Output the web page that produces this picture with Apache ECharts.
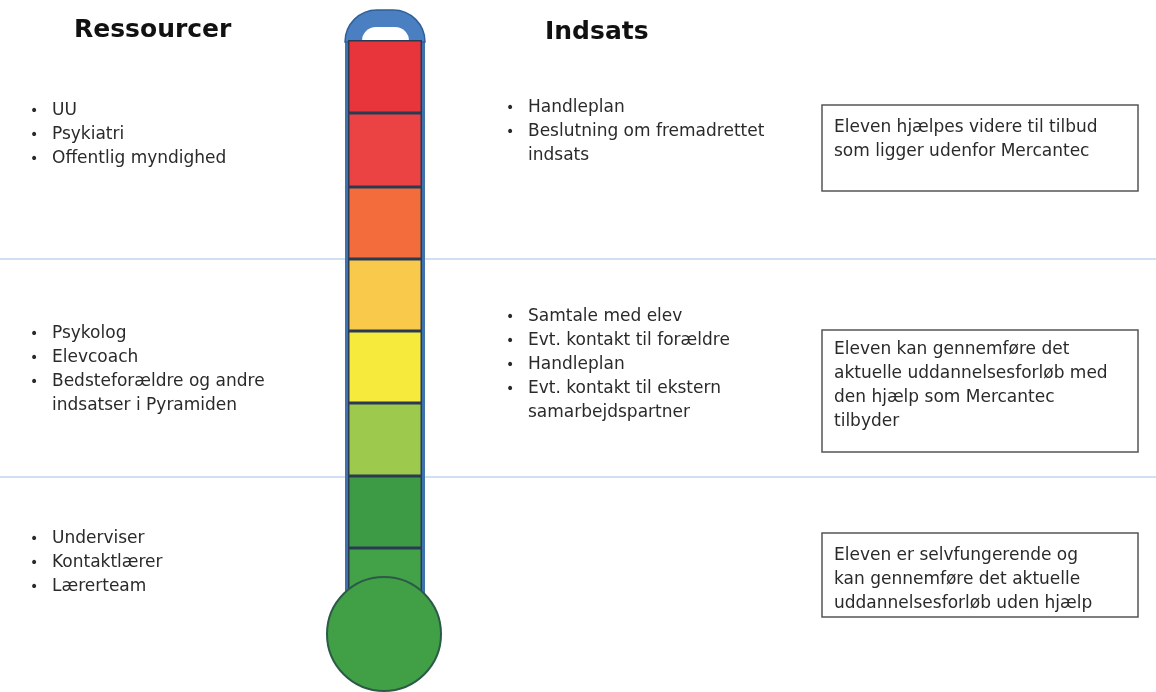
<!DOCTYPE html>
<html>
<head>
<meta charset="utf-8">
<script src="https://cdn.jsdelivr.net/npm/echarts@6/dist/echarts.min.js"></script>
<style>html,body{margin:0;padding:0;background:#fff;}#c{width:1156px;height:692px;}</style>
</head>
<body>
<div id="c"></div>
<script>
// Thermometer segments, bottom to top (height units)
const segNames = ['Grøn base','Grøn','Lysegrøn','Gul','Gul-orange','Orange','Rød 2','Rød 1'];
const segValues = [52, 72, 73, 72, 72, 72, 74, 73];
const segColors = ['#43a148','#3e9b45','#9dc94c','#f6ea3c','#f8c94a','#f36c3c','#eb4343','#e8353c'];

// Column headers
const headers = ['Ressourcer', 'Indsats'];

// Bullet lists: Ressourcer (top, middle, bottom)
const resTop = ['UU', 'Psykiatri', 'Offentlig myndighed'];
const resMid = ['Psykolog', 'Elevcoach', 'Bedsteforældre og andre\nindsatser i Pyramiden'];
const resBot = ['Underviser', 'Kontaktlærer', 'Lærerteam'];

// Bullet lists: Indsats (top, middle)
const indTop = ['Handleplan', 'Beslutning om fremadrettet\nindsats'];
const indMid = ['Samtale med elev', 'Evt. kontakt til forældre', 'Handleplan', 'Evt. kontakt til ekstern\nsamarbejdspartner'];

// Box texts
const boxTexts = [
  'Eleven hjælpes videre til tilbud\nsom ligger udenfor Mercantec',
  'Eleven kan gennemføre det\naktuelle uddannelsesforløb med\nden hjælp som Mercantec\ntilbyder',
  'Eleven er selvfungerende og\nkan gennemføre det aktuelle\nuddannelsesforløb uden hjælp'
];

const FONT = '"DejaVu Sans", sans-serif';
const LH = 24;
const TXT = '#2a2a2a';

function bulletList(items, bx, tx, y0) {
  const els = [];
  let y = y0;
  items.forEach(it => {
    const lines = it.split('\n');
    lines.forEach((ln, i) => {
      if (i === 0) {
        els.push({type:'text', x:bx, y:y, style:{text:'•', fill:TXT, font:'14px ' + FONT, textVerticalAlign:'middle', textAlign:'left'}, z:20});
      }
      els.push({type:'text', x:tx, y:y, style:{text:ln, fill:TXT, font:'17px ' + FONT, textVerticalAlign:'middle', textAlign:'left'}, z:20});
      y += LH;
    });
  });
  return els;
}

function box(x, y, w, h, txt, ty) {
  const els = [{type:'rect', shape:{x:x, y:y, width:w, height:h}, style:{fill:'#fff', stroke:'#555', lineWidth:1.5}, z:15}];
  txt.split('\n').forEach((ln, i) => {
    els.push({type:'text', x:x + 12, y:ty + i * LH, style:{text:ln, fill:TXT, font:'17px ' + FONT, textVerticalAlign:'middle', textAlign:'left'}, z:20});
  });
  return els;
}

const total = segValues.reduce((a, b) => a + b, 0);

const graphics = [
  // separator lines
  {type:'line', shape:{x1:0, y1:259, x2:1156, y2:259}, style:{stroke:'#a2bfe4', lineWidth:1.2}, z:-1},
  {type:'line', shape:{x1:0, y1:477, x2:1156, y2:477}, style:{stroke:'#a2bfe4', lineWidth:1.2}, z:-1},
  // tube outline
  {type:'rect', shape:{x:345, y:36, width:80, height:570}, style:{fill:'#3f72ad'}, z:0},
  // cap
  {type:'rect', shape:{x:345, y:10, width:80, height:32, r:[34,34,0,0]}, style:{fill:'#4a80c2', stroke:'#2f5f99', lineWidth:1.5}, z:1},
  {type:'rect', shape:{x:362, y:27, width:47, height:14, r:[16,16,0,0]}, style:{fill:'#fff'}, z:2},
  // bulb
  {type:'circle', shape:{cx:384, cy:634, r:57}, style:{fill:'#41a046', stroke:'#2b5a48', lineWidth:2}, z:100},
  // headers
  {type:'text', x:74, y:30, style:{text:headers[0], fill:'#111', font:'bold 25px ' + FONT, textVerticalAlign:'middle'}, z:20},
  {type:'text', x:545, y:32, style:{text:headers[1], fill:'#111', font:'bold 25px ' + FONT, textVerticalAlign:'middle'}, z:20}
]
.concat(bulletList(resTop, 30, 52, 111))
.concat(bulletList(resMid, 30, 52, 334))
.concat(bulletList(resBot, 30, 52, 539))
.concat(bulletList(indTop, 506, 528, 108))
.concat(bulletList(indMid, 506, 528, 317))
.concat(box(822, 105, 316, 86, boxTexts[0], 128))
.concat(box(822, 330, 316, 122, boxTexts[1], 350))
.concat(box(822, 533, 316, 84, boxTexts[2], 556));

const chart = echarts.init(document.getElementById('c'), null, {renderer:'canvas'});
chart.setOption({
  backgroundColor:'#fff',
  animation:false,
  grid:{left:348, top:40, width:74, height:total},
  xAxis:{type:'category', data:['termometer'], show:false},
  yAxis:{type:'value', min:0, max:total, show:false},
  graphic:{elements:graphics},
  series: segValues.map((v, i) => ({
    type:'bar',
    name:segNames[i],
    stack:'t',
    data:[v],
    barWidth:'100%',
    z:5,
    itemStyle:{color:segColors[i], borderColor:'#2a3a52', borderWidth:1.5}
  }))
});
</script>
</body>
</html>
